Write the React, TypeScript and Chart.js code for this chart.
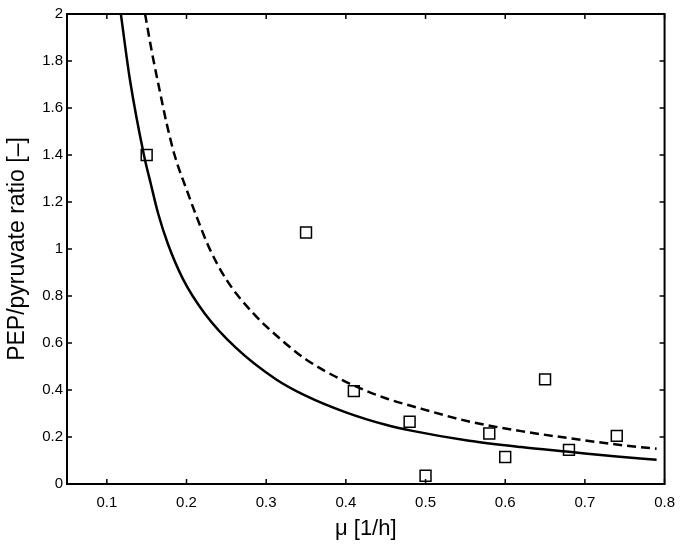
import React, { useEffect, useRef } from "react";
import { Chart, registerables } from "chart.js";

Chart.register(...registerables);

// Model curve (solid)
const solidX = [0.1176, 0.129, 0.1468, 0.155, 0.1643, 0.1768, 0.1956, 0.2228, 0.2625, 0.3126, 0.35, 0.40, 0.45, 0.4836, 0.5546, 0.62, 0.680, 0.74, 0.790];
const solidY = [2.0, 1.72, 1.396, 1.28, 1.152, 1.02, 0.872, 0.726, 0.578, 0.445, 0.375, 0.305, 0.252, 0.226, 0.184, 0.157, 0.137, 0.117, 0.103];

// Model curve (dashed)
const dashedX = [0.148, 0.157, 0.166, 0.175, 0.185, 0.202, 0.2124, 0.2282, 0.25, 0.2833, 0.3167, 0.35, 0.40, 0.45, 0.4836, 0.5546, 0.62, 0.680, 0.74, 0.790];
const dashedY = [2.0, 1.83, 1.68, 1.535, 1.40, 1.235, 1.14, 1.007, 0.87, 0.728, 0.62, 0.53, 0.435, 0.365, 0.331, 0.266, 0.225, 0.195, 0.168, 0.15];

// Measured data (squares)
const measuredX = [0.15, 0.35, 0.41, 0.48, 0.50, 0.58, 0.60, 0.65, 0.68, 0.74];
const measuredY = [1.40, 1.07, 0.395, 0.265, 0.035, 0.215, 0.115, 0.445, 0.145, 0.205];

const xTickValues = [0.1, 0.2, 0.3, 0.4, 0.5, 0.6, 0.7, 0.8];
const yTickValues = [0, 0.2, 0.4, 0.6, 0.8, 1, 1.2, 1.4, 1.6, 1.8, 2];

const xTitle = "\u03bc [1/h]";
const yTitle = "PEP/pyruvate ratio [\u2013]";

const FONT = "'Liberation Sans', Arial, Helvetica, sans-serif";

const framePlugin = {
  id: "matlabFrame",
  afterDatasetsDraw(chart: any) {
    const { ctx, chartArea, scales } = chart;
    const { left, right, top, bottom } = chartArea;
    const tl = 5;
    ctx.save();
    ctx.strokeStyle = "#000";
    ctx.lineWidth = 1.5;
    ctx.beginPath();
    for (const t of scales.x.ticks) {
      const px = scales.x.getPixelForValue(t.value);
      ctx.moveTo(px, bottom);
      ctx.lineTo(px, bottom - tl);
      ctx.moveTo(px, top);
      ctx.lineTo(px, top + tl);
    }
    for (const t of scales.y.ticks) {
      const py = scales.y.getPixelForValue(t.value);
      ctx.moveTo(left, py);
      ctx.lineTo(left + tl, py);
      ctx.moveTo(right, py);
      ctx.lineTo(right - tl, py);
    }
    ctx.stroke();
    ctx.lineWidth = 2;
    ctx.strokeRect(left, top, right - left, bottom - top);
    ctx.restore();
  },
};

export default function App() {
  const canvasRef = useRef<HTMLCanvasElement | null>(null);

  useEffect(() => {
    const canvas = canvasRef.current;
    if (!canvas) return;
    const chart = new Chart(canvas, {
      type: "scatter",
      data: {
        datasets: [
          {
            type: "line",
            data: solidX.map((x, i) => ({ x, y: solidY[i] })),
            borderColor: "#000",
            borderWidth: 2.5,
            pointRadius: 0,
            fill: false,
            cubicInterpolationMode: "monotone",
          } as any,
          {
            type: "line",
            data: dashedX.map((x, i) => ({ x, y: dashedY[i] })),
            borderColor: "#000",
            borderWidth: 2.5,
            borderDash: [9, 5],
            pointRadius: 0,
            fill: false,
            cubicInterpolationMode: "monotone",
          } as any,
          {
            type: "scatter",
            data: measuredX.map((x, i) => ({ x, y: measuredY[i] })),
            pointStyle: "rect",
            pointRadius: 7.7,
            pointBorderWidth: 1.5,
            borderColor: "#000",
            backgroundColor: "rgba(0,0,0,0)",
            clip: false,
          } as any,
        ],
      },
      options: {
        responsive: false,
        animation: false,
        events: [],
        layout: { padding: { top: 14, right: 19, left: 0, bottom: 0 } },
        plugins: { legend: { display: false }, tooltip: { enabled: false } },
        scales: {
          x: {
            type: "linear",
            min: 0.05,
            max: 0.8,
            grid: { display: false, drawTicks: false },
            border: { display: false },
            afterBuildTicks: (s: any) => {
              s.ticks = xTickValues.map((v) => ({ value: v }));
            },
            afterFit: (s: any) => {
              s.height = 61;
            },
            ticks: {
              color: "#000",
              padding: 10,
              maxRotation: 0,
              autoSkip: false,
              font: { family: FONT, size: 15 },
              callback: (v: any) => String(parseFloat(Number(v).toFixed(2))),
            },
            title: {
              display: true,
              text: xTitle,
              color: "#000",
              font: { family: FONT, size: 22 },
              padding: { top: 0, bottom: 3 },
            },
          },
          y: {
            type: "linear",
            min: 0,
            max: 2,
            grid: { display: false, drawTicks: false },
            border: { display: false },
            afterBuildTicks: (s: any) => {
              s.ticks = yTickValues.map((v) => ({ value: v }));
            },
            afterFit: (s: any) => {
              s.width = 67;
            },
            ticks: {
              color: "#000",
              padding: 4,
              autoSkip: false,
              font: { family: FONT, size: 15 },
              callback: (v: any) => String(parseFloat(Number(v).toFixed(2))),
            },
            title: {
              display: true,
              text: yTitle,
              color: "#000",
              font: { family: FONT, size: 23 },
              padding: { top: 4, bottom: 0 },
            },
          },
        },
      },
      plugins: [framePlugin],
    });
    return () => chart.destroy();
  }, []);

  return (
    <div style={{ position: "absolute", left: 0, top: 0, width: 685, height: 545, background: "#fff" }}>
      <canvas ref={canvasRef} width={685} height={545} style={{ display: "block", width: 685, height: 545 }} />
    </div>
  );
}
